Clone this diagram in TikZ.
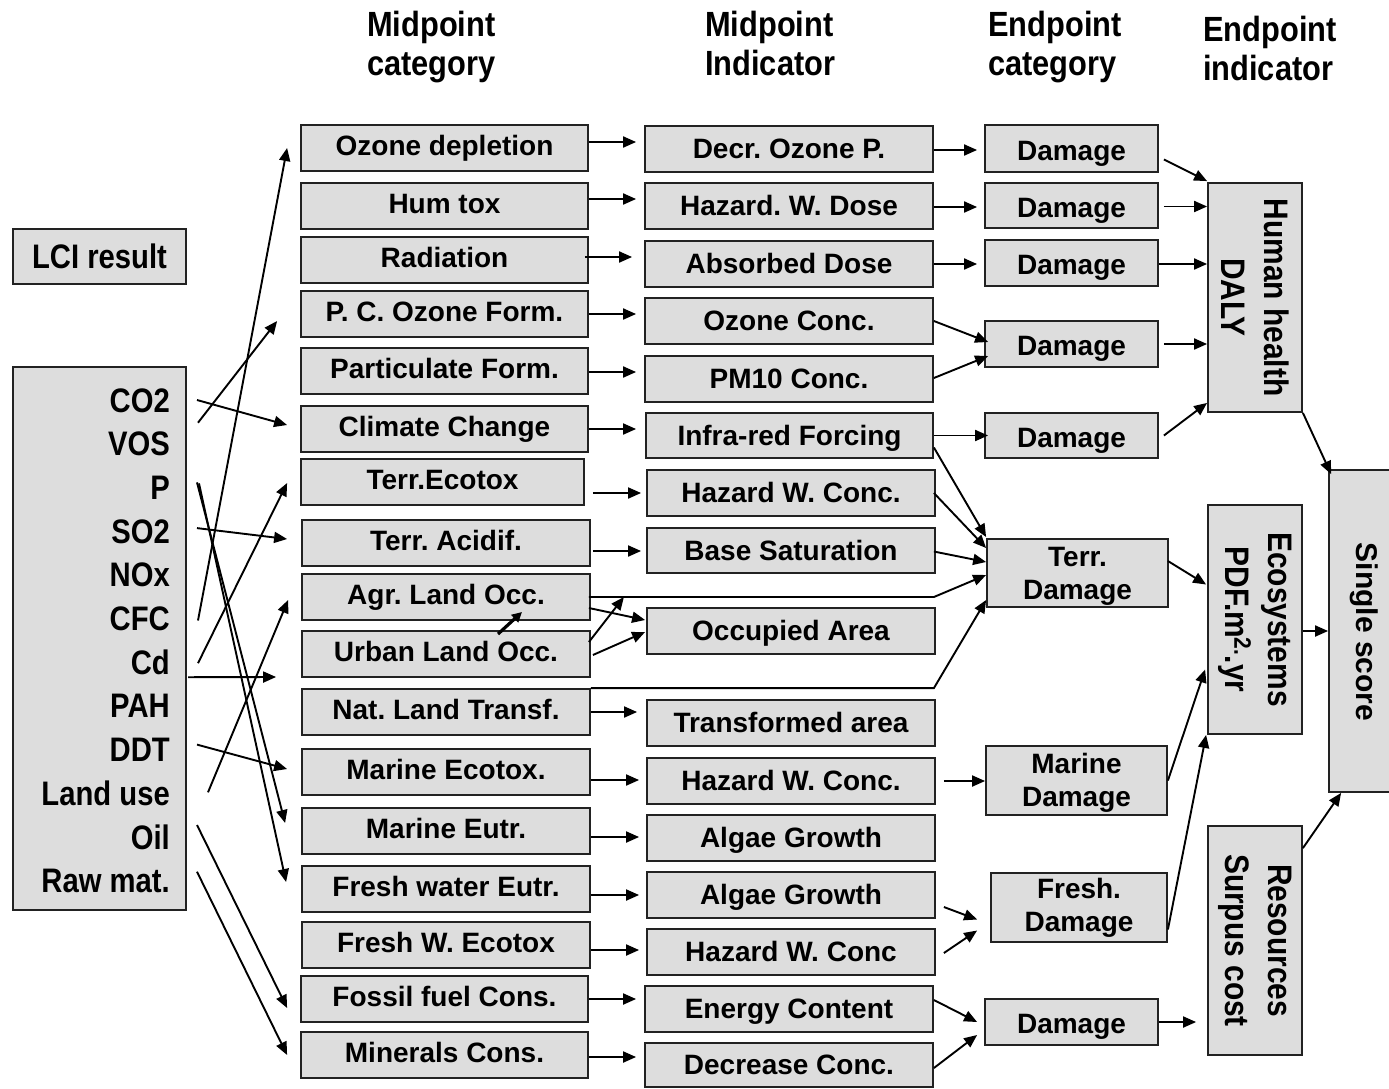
\documentclass[tikz,border=0pt]{standalone}
\usepackage{fontspec}
\setmainfont{Liberation Sans}
\usetikzlibrary{arrows.meta,calc}
\definecolor{boxgray}{HTML}{DDDDDD}
\definecolor{edge}{HTML}{222222}
\frenchspacing

\tikzset{
  box/.style={draw=edge, fill=boxgray, line width=1.8pt, inner sep=0pt,
    font=\bfseries\fontsize{28}{33}\selectfont, align=center},
  catbox/.style={box, text height=20pt, text depth=6pt},
  indbox/.style={box, text height=24pt, text depth=5pt},
  dmgbox/.style={box, text height=27pt, text depth=4pt},
  arr/.style={draw=black, line width=1.9pt, -{Triangle[length=13pt,width=11pt]}},
  lbl/.style={font=\bfseries\fontsize{34}{40}\selectfont, inner sep=0pt, anchor=base east},
  head/.style={font=\bfseries\fontsize{35}{39}\selectfont, align=left, anchor=north west, inner sep=0pt},
  vtext/.style={font=\bfseries\fontsize{34}{43}\selectfont, align=center, inner sep=0pt, rotate=-90},
}

% condensed lettering
\newcommand\cnd[2][0.86]{\scalebox{#1}[1]{#2}}
% box from its left, right, top and bottom edges
\newcommand\pbox[7][box]{%
  \node[#1, minimum width={(#4-#3)*1pt}, minimum height={(#6-#5)*1pt}]
    (#2) at ({(#3+#4)/2},{(#5+#6)/2}) {#7};}
% horizontal connector: from, to, start x offset, y offset, end gap
\newcommand\hconn[5]{%
  \draw[arr] ($(#1.east)+(#3,#4)$) coordinate (hc) -- ($(#2.west|-hc)+(-#5,0)$);}

\begin{document}
\begin{tikzpicture}[x=1pt,y=-1pt]
\useasboundingbox (0,0) rectangle (1389,1088);

% column headings
\node[head] (h1) at (367,11) {\cnd[0.88]{Midpoint}\\\cnd[0.88]{category}};
\node[head] (h2) at (705,11) {\cnd[0.88]{Midpoint}\\\cnd[0.88]{Indicator}};
\node[head] (h3) at (988,11) {\cnd[0.88]{Endpoint}\\\cnd[0.88]{category}};
\node[head] (h4) at (1203,16) {\cnd[0.88]{Endpoint}\\\cnd[0.88]{indicator}};

% inventory
\pbox{lci}{13}{186}{229}{284}{\fontsize{34}{40}\selectfont\cnd{LCI result}}
\pbox{inv}{13}{186}{367}{910}{}
\foreach \nm/\txt [count=\k from 0] in {lCO2/CO2, lVOS/VOS, lP/P, lSO2/SO2, lNOx/NOx,
    lCFC/CFC, lCd/Cd, lPAH/PAH, lDDT/DDT, lLU/Land use, lOil/Oil, lRaw/Raw mat.}
  \node[lbl] (\nm) at (170,{412+43.7*\k}) {\cnd{\txt}};

% midpoint categories
\pbox[catbox]{mOD}{301}{588}{125}{171}{Ozone depletion}
\pbox[catbox]{mHT}{301}{588}{183}{229}{Hum tox}
\pbox[catbox]{mRad}{301}{588}{237}{283}{Radiation}
\pbox[catbox]{mPC}{301}{588}{291}{337}{P. C. Ozone Form.}
\pbox[catbox]{mPF}{301}{588}{348}{394}{Particulate Form.}
\pbox[catbox]{mCC}{301}{588}{406}{452}{Climate Change}
\pbox[catbox]{mTE}{301}{584}{459}{505}{Terr.Ecotox}
\pbox[catbox]{mTA}{302}{590}{520}{566}{Terr. Acidif.}
\pbox[catbox]{mAL}{302}{590}{574}{620}{Agr. Land Occ.}
\pbox[catbox]{mUL}{302}{590}{631}{677}{Urban Land Occ.}
\pbox[catbox]{mNL}{302}{590}{689}{735}{Nat. Land Transf.}
\pbox[catbox]{mME}{302}{590}{749}{795}{Marine Ecotox.}
\pbox[catbox]{mMEu}{302}{590}{808}{854}{Marine Eutr.}
\pbox[catbox]{mFE}{302}{590}{866}{912}{Fresh water Eutr.}
\pbox[catbox]{mFT}{302}{590}{922}{968}{Fresh W. Ecotox}
\pbox[catbox]{mFF}{301}{588}{976}{1022}{Fossil fuel Cons.}
\pbox[catbox]{mMC}{301}{588}{1032}{1078}{Minerals Cons.}

% midpoint indicators
\pbox[indbox]{iDO}{645}{933}{126}{172}{Decr. Ozone P.}
\pbox[indbox]{iHD}{645}{933}{183}{229}{Hazard. W. Dose}
\pbox[indbox]{iAD}{645}{933}{241}{287}{Absorbed Dose}
\pbox[indbox]{iOC}{645}{933}{298}{344}{Ozone Conc.}
\pbox[indbox]{iPM}{645}{933}{356}{402}{PM10 Conc.}
\pbox[indbox]{iIR}{646}{933}{413}{458}{Infra-red Forcing}
\pbox[indbox]{iHW1}{647}{935}{470}{516}{Hazard W. Conc.}
\pbox[indbox]{iBS}{647}{935}{528}{573}{Base Saturation}
\pbox[indbox]{iOA}{647}{935}{608}{654}{Occupied Area}
\pbox[indbox]{iTA}{647}{935}{700}{746}{Transformed area}
\pbox[indbox]{iHW2}{647}{935}{758}{804}{Hazard W. Conc.}
\pbox[indbox]{iAG1}{647}{935}{815}{861}{Algae Growth}
\pbox[indbox]{iAG2}{647}{935}{872}{918}{Algae Growth}
\pbox[indbox]{iHW3}{647}{935}{929}{975}{Hazard W. Conc}
\pbox[indbox]{iEC}{645}{933}{986}{1032}{Energy Content}
\pbox[indbox]{iDC}{645}{933}{1043}{1087}{Decrease Conc.}

% endpoint categories
\pbox[dmgbox]{eD1}{985}{1158}{125}{172}{Damage}
\pbox[dmgbox]{eD2}{985}{1158}{183}{228}{Damage}
\pbox[dmgbox]{eD3}{985}{1158}{240}{286}{Damage}
\pbox[dmgbox]{eD4}{985}{1158}{321}{367}{Damage}
\pbox[dmgbox]{eD5}{985}{1158}{413}{458}{Damage}
\pbox{eTD}{987}{1168}{539}{607}{\rule{0pt}{26pt}Terr.\\Damage}
\pbox{eMD}{986}{1167}{746}{815}{\rule{0pt}{24pt}Marine\\Damage}
\pbox{eFD}{991}{1167}{873}{942}{Fresh.\\Damage}
\pbox[dmgbox]{eRD}{985}{1158}{999}{1045}{Damage}

% endpoint indicators and single score
\pbox{dHH}{1208}{1302}{183}{412}{}
\pbox{dEC}{1208}{1302}{505}{734}{}
\pbox{dRS}{1208}{1302}{826}{1055}{}
\pbox{dSS}{1329}{1400}{470}{792}{}
\node[vtext] (tHH) at (dHH.center) {\cnd[0.88]{Human health}\\\cnd[0.88]{DALY}};
\node[vtext] (tEC) at (dEC.center) {\cnd[0.88]{Ecosystems}\\\cnd[0.88]{PDF.m\textsuperscript{2.}.yr}};
\node[vtext] (tRS) at (dRS.center) {\cnd[0.88]{Resources}\\\cnd[0.88]{Surpus cost}};
\node[vtext, font=\bfseries\fontsize{30}{36}\selectfont] (tSS) at ($(dSS.center)+(0,1)$) {Single score};

% inventory flows to midpoint categories
\draw[arr] ($(lCO2.base east)+(27,-12)$) -- ($(mCC.west)+(-13,-4)$);
\draw[arr] ($(lVOS.base east)+(28,-33)$) -- ($(mPC.west)+(-23,7)$);
\draw[arr] ($(lCFC.base east)+(28,-10)$) -- ($(mOD.west)+(-13,0)$);
\draw[arr] ($(lCd.base east)+(28,-11)$) -- ($(mTE.west)+(-13,1)$);
\draw[arr] ($(lSO2.base east)+(27,-15)$) -- ($(mTA.west)+(-14,-4)$);
\draw[arr] ($(lCd.base east)+(18,3)$) -- ($(mUL.west)+(-25,23)$);
\draw[arr] ($(lLU.base east)+(38,-13)$) -- ($(mAL.west)+(-13,3)$);
\draw[arr] ($(lDDT.base east)+(27,-17)$) -- ($(mME.west)+(-14,-3)$);
\draw[arr] ($(lP.base east)+(27,-17)$) -- ($(mMEu.west)+(-16,-8)$);
\draw[arr] ($(lP.base east)+(29,-16)$) -- ($(mFE.west)+(-15,-7)$);
\draw[arr] ($(lOil.base east)+(27,-24)$) -- ($(mFF.west)+(-13,9)$);
\draw[arr] ($(lRaw.base east)+(27,-21)$) -- ($(mMC.west)+(-13,0)$);

% midpoint categories to indicators
\hconn{mOD}{iDO}{0}{-6}{8}
\hconn{mHT}{iHD}{0}{-7}{8}
\hconn{mRad}{iAD}{-4}{-3}{12}
\hconn{mPC}{iOC}{0}{0}{8}
\hconn{mPF}{iPM}{0}{1}{8}
\hconn{mCC}{iIR}{0}{0}{9}
\hconn{mTE}{iHW1}{8}{11}{5}
\hconn{mTA}{iBS}{2}{8}{5}
\hconn{mNL}{iTA}{0}{0}{9}
\hconn{mME}{iHW2}{0}{8}{7}
\hconn{mMEu}{iAG1}{0}{6}{7}
\hconn{mFE}{iAG2}{0}{6}{7}
\hconn{mFT}{iHW3}{0}{5}{7}
\hconn{mFF}{iEC}{0}{0}{8}
\hconn{mMC}{iDC}{0}{2}{8}

% land use flows
\draw[arr] ($(mAL.east)+(-2,0)$) -- ($(mAL.east)+(343,0)$) -- ($(eTD.west)+(0,2)$);
\draw[arr] ($(mAL.east)+(-2,11)$) -- ($(iOA.west)+(-1,-11)$);
\draw[arr] ($(mUL.east)+(-2,-12)$) -- ($(mAL.east)+(33,0)$);
\draw[arr] ($(mUL.east)+(2,1)$) -- ($(iOA.west)+(-1,1)$);
\draw[arr, line width=3.2pt, -{Triangle[length=10pt,width=10pt]}]
  ($(mUL.center)+(52,-20)$) -- ($(mUL.center)+(76,-42)$);
\draw[arr] (mNL.north east) -- ($(mNL.north east)+(343,0)$) -- ($(eTD.west)+(0,27)$);

% indicators to endpoint categories
\hconn{iDO}{eD1}{0}{1}{7}
\hconn{iHD}{eD2}{0}{1}{7}
\hconn{iAD}{eD3}{0}{0}{7}
\draw[arr] (iOC.east) -- ($(eD4.west)+(4,-2)$);
\draw[arr] ($(iPM.east)+(0,-1)$) -- ($(eD4.west)+(4,12)$);
\hconn{iIR}{eD5}{0}{0}{-4}
\draw[arr] ($(iIR.east)+(0,12)$) -- ($(eTD.west)+(0,-36)$);
\draw[arr] ($(iHW1.east)+(-2,0)$) -- ($(eTD.west)+(0,-25)$);
\draw[arr] ($(iBS.east)+(-2,1)$) -- ($(eTD.west)+(0,-11)$);
\hconn{iHW2}{eMD}{8}{0}{0}
\draw[arr] ($(iAG2.east)+(8,12)$) -- ($(eFD.west)+(-13,12)$);
\draw[arr] ($(iHW3.east)+(8,1)$) -- ($(eFD.west)+(-13,23)$);
\draw[arr] ($(iEC.east)+(0,-9)$) -- ($(eRD.west)+(-7,0)$);
\draw[arr] ($(iDC.east)+(0,3)$) -- ($(eRD.west)+(-7,13)$);

% endpoint categories to endpoint indicators
\draw[arr] ($(eD1.east)+(5,11)$) -- ($(dHH.north west)+(0,-1)$);
\hconn{eD2}{dHH}{5}{1}{0}
\hconn{eD3}{dHH}{0}{1}{0}
\hconn{eD4}{dHH}{5}{0}{0}
\draw[arr] ($(eD5.east)+(5,0)$) -- ($(dHH.south west)+(0,-10)$);
\draw[arr] ($(eTD.east)+(-1,-12)$) -- ($(dEC.west)+(-1,-35)$);
\draw[arr] (eMD.east) -- ($(dEC.west)+(-2,50)$);
\draw[arr] ($(eFD.east)+(0,22)$) -- ($(dEC.south west)+(-1,0)$);
\hconn{eRD}{dRS}{0}{0}{11}

% weighting into the single score
\draw[arr] (dHH.south east) -- ($(dSS.north west)+(3,5)$);
\hconn{dEC}{dSS}{0}{11.5}{0}
\draw[arr] ($(dRS.north east)+(0,23)$) -- ($(dSS.south west)+(13,0)$);
\end{tikzpicture}
\end{document}
